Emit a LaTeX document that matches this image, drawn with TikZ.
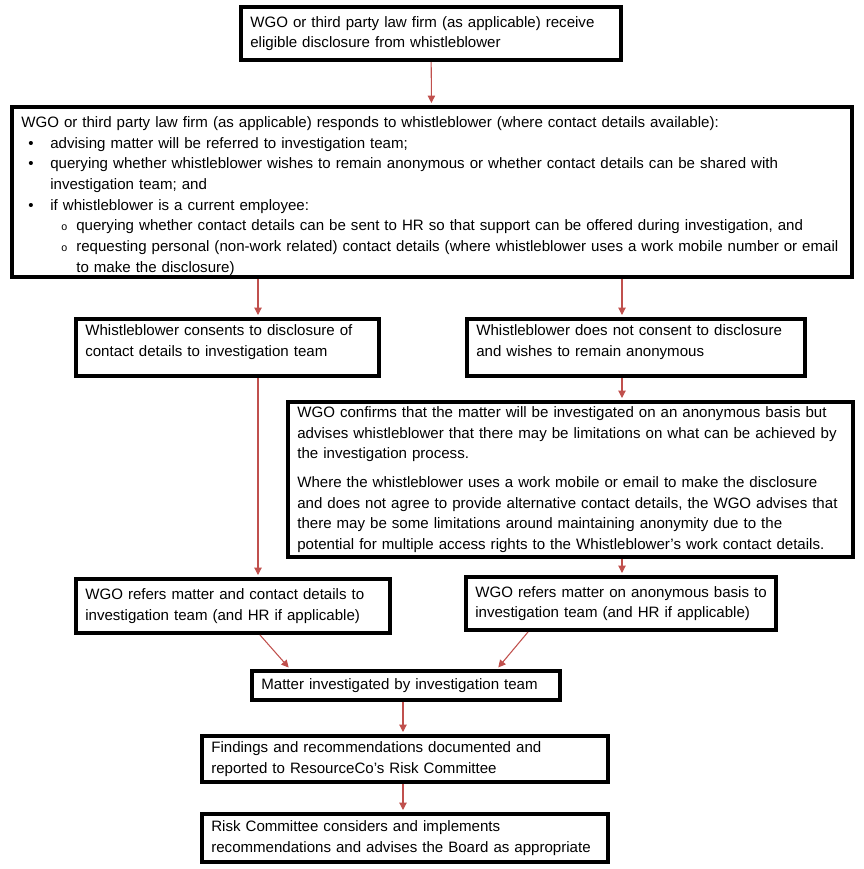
\documentclass[tikz,border=0pt]{standalone}
\usepackage{fontspec}
\setmainfont{Liberation Sans}
\usetikzlibrary{arrows.meta}

\definecolor{flowred}{HTML}{C0504D}
\tikzset{
  box/.style={draw, line width=3pt, anchor=north west, align=left,
    inner xsep=7pt, inner ysep=0pt, font=\fontsize{11.3}{15.5}\selectfont},
  flow/.style={draw=flowred, line width=0.8pt, shorten >=1.5pt,
    -{Triangle[width=5.5pt,length=5.5pt]}}
}
\newcommand{\bulitem}[1]{\par\hangindent=21.75pt\hangafter=1\noindent
  \makebox[21.75pt][l]{\hspace{5.25pt}\textbullet}#1}
\newcommand{\circitem}[1]{\par\hangindent=41.25pt\hangafter=1\noindent
  \makebox[41.25pt][l]{\hspace{30pt}{\footnotesize o}}#1}

\begin{document}
\begin{tikzpicture}[x=0.75pt,y=-0.75pt]
  \useasboundingbox (0,0) rectangle (864,869);

  \node[box, minimum width=285pt, minimum height=39.75pt, text width=271pt] (recv) at (239,5)
    {WGO or third party law firm (as applicable) receive\\eligible disclosure from whistleblower};

  \node[box, minimum width=630pt, minimum height=127.5pt, text width=616pt, text depth=105pt] (resp) at (10,105)
    {\noindent WGO or third party law firm (as applicable) responds to whistleblower (where contact details available):
     \bulitem{advising matter will be referred to investigation team;}
     \bulitem{querying whether whistleblower wishes to remain anonymous or whether contact details can be shared with\newline investigation team; and}
     \bulitem{if whistleblower is a current employee:}
     \circitem{querying whether contact details can be sent to HR so that support can be offered during investigation, and}
     \circitem{requesting personal (non-work related) contact details (where whistleblower uses a work mobile number or email\newline to make the disclosure)}\par};

  \node[box, minimum width=227.25pt, minimum height=42.75pt, text width=213.25pt, text depth=26pt] (lcons) at (74,317)
    {Whistleblower consents to disclosure of\\contact details to investigation team};
  \node[box, minimum width=253.5pt, minimum height=42.75pt, text width=239.5pt, text depth=26pt] (rcons) at (465,317)
    {Whistleblower does not consent to disclosure\\and wishes to remain anonymous};

  \node[box, minimum width=423.75pt, minimum height=116.25pt, text width=409.75pt] (conf) at (286,400)
    {WGO confirms that the matter will be investigated on an anonymous basis but\\
     advises whistleblower that there may be limitations on what can be achieved by\\
     the investigation process.\\[6pt]
     Where the whistleblower uses a work mobile or email to make the disclosure\\
     and does not agree to provide alternative contact details, the WGO advises that\\
     there may be some limitations around maintaining anonymity due to the\\
     potential for multiple access rights to the Whistleblower’s work contact details.};

  \node[box, minimum width=235.5pt, minimum height=40.5pt, text width=221.5pt] (lref) at (74,577)
    {WGO refers matter and contact details to\\investigation team (and HR if applicable)};
  \node[box, minimum width=232.5pt, minimum height=39.75pt, text width=218.5pt] (rref) at (464,575)
    {\mbox{WGO refers matter on anonymous basis to}\\investigation team (and HR if applicable)};

  \node[box, minimum width=231pt, minimum height=21.75pt, text width=217pt] (matter) at (250,669)
    {Matter investigated by investigation team};
  \node[box, minimum width=304.5pt, minimum height=34.5pt, text width=290.5pt] (find) at (200,734)
    {Findings and recommendations documented and\\reported to ResourceCo’s Risk Committee};
  \node[box, minimum width=304.5pt, minimum height=36pt, text width=290.5pt] (risk) at (200,812)
    {Risk Committee considers and implements\\recommendations and advises the Board as appropriate};

  \coordinate (xl) at (258,0);
  \coordinate (xr) at (622,0);
  \coordinate (xm) at (403,0);
  \coordinate (dl1) at (260,0);
  \coordinate (dl2) at (290,0);
  \coordinate (dr1) at (528,0);
  \coordinate (dr2) at (497,0);

  \draw[flow] (recv) -- (resp);
  \draw[flow] (resp.south -| xl) -- (lcons.north -| xl);
  \draw[flow] (resp.south -| xr) -- (rcons.north -| xr);
  \draw[flow] (rcons.south -| xr) -- (conf.north -| xr);
  \draw[flow] (lcons.south -| xl) -- (lref.north -| xl);
  \draw[flow] (conf.south -| xr) -- (rref.north -| xr);
  \draw[flow] (lref.south -| dl1) -- (matter.north -| dl2);
  \draw[flow] (rref.south -| dr1) -- (matter.north -| dr2);
  \draw[flow] (matter.south -| xm) -- (find.north -| xm);
  \draw[flow] (find.south -| xm) -- (risk.north -| xm);
\end{tikzpicture}
\end{document}
